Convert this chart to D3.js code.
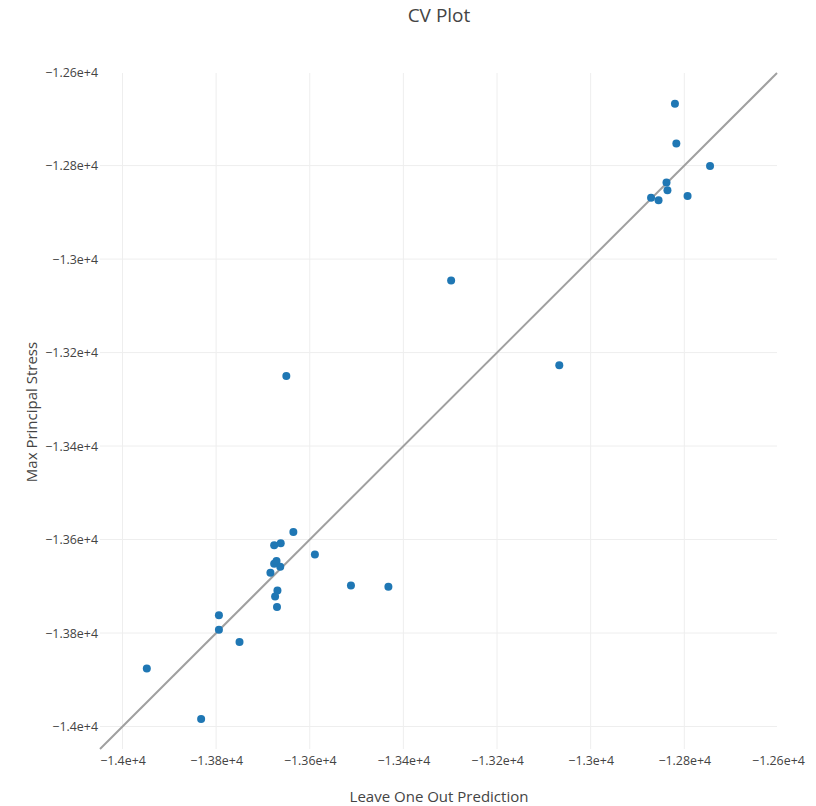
<!DOCTYPE html>
<html>
<head>
<meta charset="utf-8">
<script src="https://cdn.jsdelivr.net/npm/d3@7"></script>
<style>
  html, body { margin: 0; padding: 0; background: #fff; }
  svg { display: block; font-family: "Open Sans", verdana, arial, sans-serif; }
</style>
</head>
<body>
<svg id="chart" width="816" height="806"></svg>
<script>
// Leave-one-out predictions (x) against observed max principal stress (y)
const prediction = [
  -12820, -12817, -12745, -12838, -12836, -12793, -12871, -12855,
  -13298, -13067, -13650, -13635, -13676, -13662, -13589, -13676,
  -13671, -13663, -13684, -13512, -13432, -13669, -13674, -13670,
  -13794, -13794, -13750, -13948, -13832
];
const stress = [
  -12668, -12753, -12801, -12836, -12853, -12865, -12869, -12874,
  -13046, -13227, -13250, -13584, -13612, -13608, -13632, -13652,
  -13646, -13658, -13671, -13698, -13701, -13709, -13722, -13744,
  -13762, -13793, -13819, -13876, -13984
];

// Identity line end points and shared axis range
const lineEnds = [-14048, -12602];

const tickValues = [-14000, -13800, -13600, -13400, -13200, -13000, -12800, -12600];
const tickLabels = ["−1.4e+4", "−1.38e+4", "−1.36e+4", "−1.34e+4", "−1.32e+4", "−1.3e+4", "−1.28e+4", "−1.26e+4"];

const titleText = "CV Plot";
const xTitle = "Leave One Out Prediction";
const yTitle = "Max Principal Stress";

const svg = d3.select("#chart");
const plotLeft = 100, plotRight = 777, plotTop = 73, plotBottom = 749;

const x = d3.scaleLinear().domain(lineEnds).range([plotLeft, plotRight]);
const y = d3.scaleLinear().domain(lineEnds).range([plotBottom, plotTop]);

const labelOf = v => tickLabels[tickValues.indexOf(v)];

// grid lines (the -1.26e+4 ticks sit on the plot edge)
const gridTicks = tickValues.filter(v => v !== -12600);
svg.append("g").selectAll("line").data(gridTicks).join("line")
  .attr("x1", d => x(d)).attr("x2", d => x(d))
  .attr("y1", plotTop).attr("y2", plotBottom)
  .attr("stroke", "#eee").attr("stroke-width", 1);
svg.append("g").selectAll("line").data(gridTicks).join("line")
  .attr("y1", d => y(d)).attr("y2", d => y(d))
  .attr("x1", plotLeft).attr("x2", plotRight)
  .attr("stroke", "#eee").attr("stroke-width", 1);

// axes: labels only, no domain line or tick marks
const xAxis = d3.axisBottom(x).tickValues(tickValues).tickFormat(labelOf).tickSize(0).tickPadding(6);
const gx = svg.append("g").attr("transform", `translate(0,${plotBottom + 1})`).call(xAxis);
gx.select(".domain").remove();
gx.selectAll("text").attr("fill", "#444").style("font-size", "12.4px")
  .style("font-family", '"Open Sans", verdana, arial, sans-serif');

const yAxis = d3.axisLeft(y).tickValues(tickValues).tickFormat(labelOf).tickSize(0).tickPadding(2);
const gy = svg.append("g").attr("transform", `translate(${plotLeft},0)`).call(yAxis);
gy.select(".domain").remove();
gy.selectAll("text").attr("fill", "#444").style("font-size", "12.4px")
  .style("font-family", '"Open Sans", verdana, arial, sans-serif');

// identity line
svg.append("line")
  .attr("x1", x(lineEnds[0])).attr("y1", y(lineEnds[0]))
  .attr("x2", x(lineEnds[1])).attr("y2", y(lineEnds[1]))
  .attr("stroke", "#a0a0a0").attr("stroke-width", 2);

// points
svg.append("g").selectAll("circle").data(prediction).join("circle")
  .attr("cx", d => x(d))
  .attr("cy", (d, i) => y(stress[i]))
  .attr("r", 4)
  .attr("fill", "#1f77b4");

// titles
svg.append("text").attr("x", 439).attr("y", 22).attr("text-anchor", "middle")
  .attr("fill", "#444").style("font-size", "19px").text(titleText);
svg.append("text").attr("x", 439).attr("y", 802).attr("text-anchor", "middle")
  .attr("fill", "#444").style("font-size", "15px").text(xTitle);
svg.append("text").attr("transform", "translate(37,412) rotate(-90)").attr("text-anchor", "middle")
  .attr("fill", "#444").style("font-size", "15px").text(yTitle);
</script>
</body>
</html>
